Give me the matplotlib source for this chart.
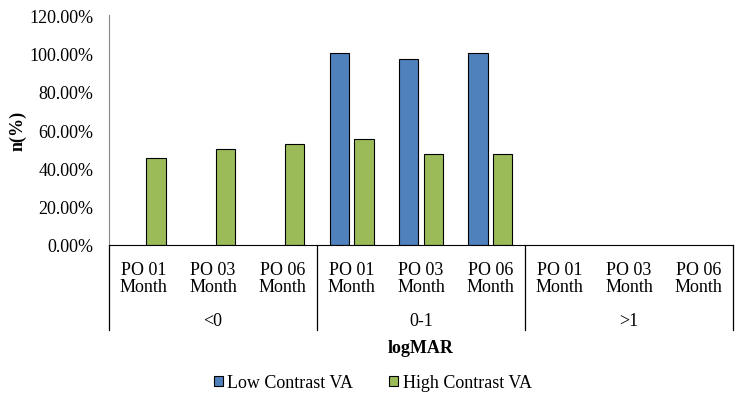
"""Clustered bars of low/high contrast VA by logMAR group and follow-up month."""

import matplotlib
matplotlib.use("Agg")
import matplotlib.pyplot as plt
import matplotlib.transforms as mtransforms
import numpy as np

plt.rcParams["font.family"] = ["Liberation Serif", "DejaVu Serif"]

groups = ["<0", "0-1", ">1"]
months = ["PO 01\nMonth", "PO 03\nMonth", "PO 06\nMonth"]

# values in percent, 3 months per group
low_contrast = [0, 0, 0, 100.0, 97.3, 100.0, 0, 0, 0]
high_contrast = [45.45, 50.0, 52.63, 55.5, 47.4, 47.4, 0, 0, 0]

BLUE = "#4F81BD"
GREEN = "#9BBB59"
FS = 13

fig = plt.figure(figsize=(7.5, 4.02), dpi=100)
ax = fig.add_axes([109 / 750, 1 - 246 / 402, (733 - 109) / 750, 230 / 402])

x = np.arange(len(low_contrast))
off = 0.177
w = 0.28
low = [v if v > 0 else np.nan for v in low_contrast]
high = [v if v > 0 else np.nan for v in high_contrast]
ax.bar(x - off, low, w, color=BLUE, edgecolor="black", linewidth=0.8, label="Low Contrast VA")
ax.bar(x + off, high, w, color=GREEN, edgecolor="black", linewidth=0.8, label="High Contrast VA")

ax.set_xlim(-0.5, len(x) - 0.5)
ax.set_ylim(0, 120)
ax.set_yticks(np.arange(0, 121, 20))
ax.set_yticklabels([f"{v:.2f}%" for v in np.arange(0, 121, 20)], fontsize=FS)
ax.tick_params(axis="y", length=0, pad=11)
ax.set_xticks([])

for s in ("top", "right"):
    ax.spines[s].set_visible(False)
ax.spines["left"].set_color("#888888")
ax.spines["bottom"].set_color("black")

# multi-level category axis
trans = mtransforms.blended_transform_factory(ax.transData, ax.transAxes)
for i, xi in enumerate(x):
    ax.text(xi, -0.145, months[i % 3], transform=trans, ha="center", va="center",
            fontsize=FS, linespacing=1.0)
for g, name in enumerate(groups):
    ax.text(3 * g + 1, -0.33, name, transform=trans, ha="center", va="center", fontsize=FS)
for b in [-0.5, 2.5, 5.5, 8.5]:
    ax.plot([b, b], [0, -0.37], transform=trans, color="black", linewidth=0.9, clip_on=False)

ax.set_ylabel("n(%)", fontsize=FS, fontweight="bold", labelpad=2)
fig.text(421 / 750, 1 - 349 / 402, "logMAR", ha="center", va="center",
         fontsize=FS, fontweight="bold")

fig.legend(loc="center", bbox_to_anchor=(0.497, 1 - 384 / 402), ncol=2, frameon=False,
           fontsize=FS, handlelength=0.5, handleheight=0.5, handletextpad=0.25,
           columnspacing=2.0)

fig.savefig("out.png", dpi=100)
